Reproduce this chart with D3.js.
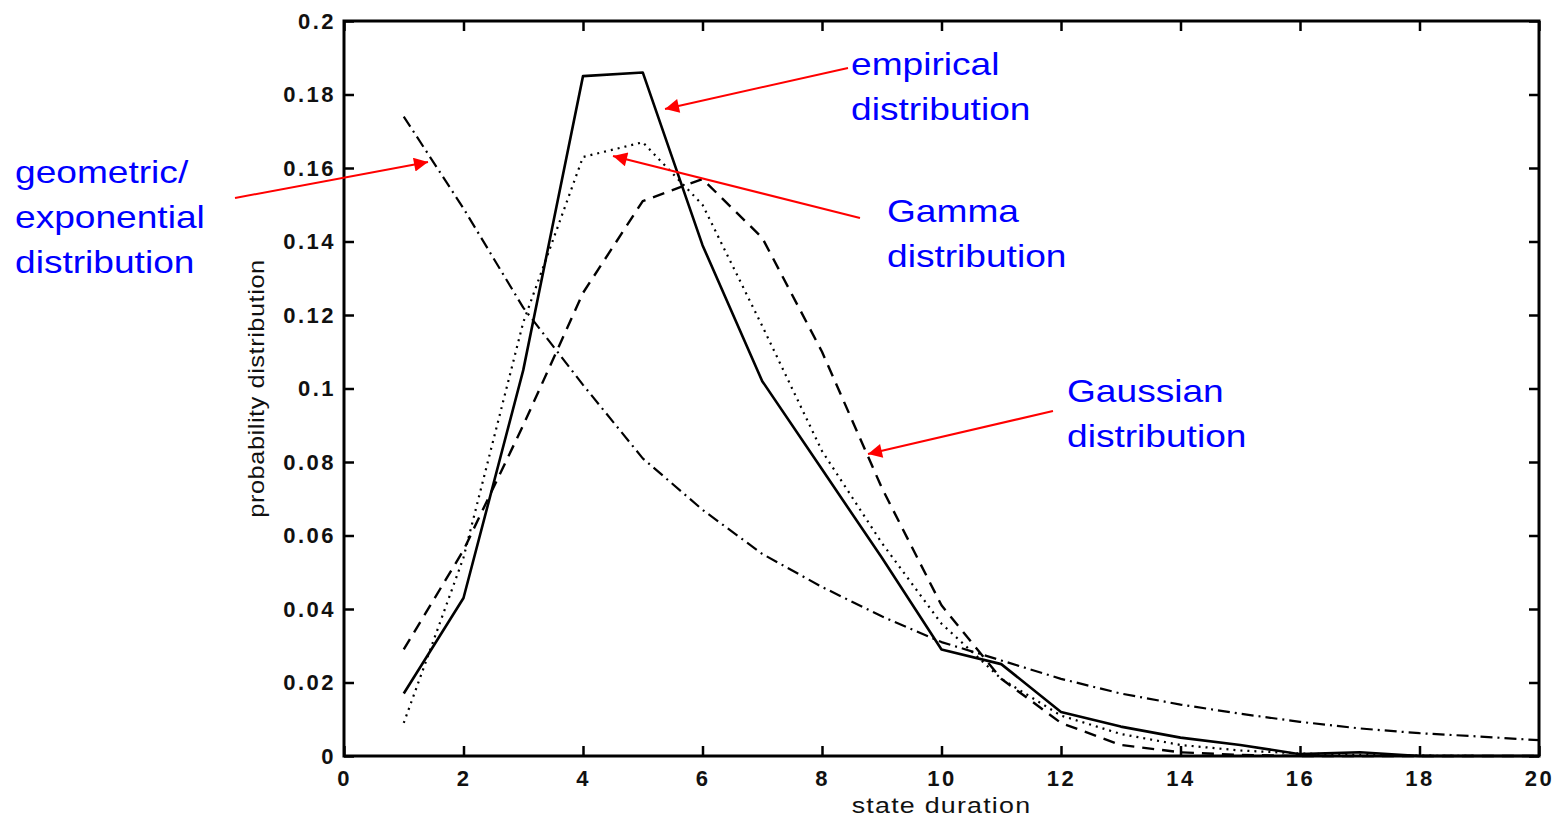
<!DOCTYPE html>
<html>
<head>
<meta charset="utf-8">
<script src="https://cdn.jsdelivr.net/npm/d3@7"></script>
<style>
  html, body { margin: 0; padding: 0; background: #fff; }
  svg { display: block; }
</style>
</head>
<body>
<svg id="chart" width="1557" height="819"></svg>
<script>
// ---------- data ----------
const durations = [1,2,3,4,5,6,7,8,9,10,11,12,13,14,15,16,17,18,19,20];
const empirical = [0.017,0.043,0.105,0.185,0.186,0.139,0.102,0.078,0.054,0.029,0.025,0.012,0.008,0.005,0.003,0.0005,0.001,0,0,0];
const gammaDist = [0.009,0.054,0.118,0.163,0.167,0.150,0.117,0.083,0.058,0.036,0.021,0.011,0.006,0.003,0.0015,0.0007,0.0003,0.0001,0,0];
const gaussian  = [0.029,0.056,0.090,0.126,0.151,0.157,0.141,0.110,0.073,0.041,0.021,0.009,0.003,0.001,0.0003,0,0,0,0,0];
const geometric = [0.174,0.149,0.122,0.101,0.081,0.067,0.055,0.046,0.038,0.031,0.026,0.021,0.017,0.014,0.0115,0.0093,0.0075,0.0062,0.0053,0.0043];
const xTicks = [0,2,4,6,8,10,12,14,16,18,20];
const yTicks = [0,0.02,0.04,0.06,0.08,0.1,0.12,0.14,0.16,0.18,0.2];
const xLabel = "state duration";
const yLabel = "probability distribution";
const annotations = [
  {lines:["empirical","distribution"], x:851, y:75, from:[848,68], to:[665,109]},
  {lines:["Gamma","distribution"], x:887, y:222, from:[860,218], to:[613,156]},
  {lines:["geometric/","exponential","distribution"], x:15, y:183, from:[235,198], to:[428,162]},
  {lines:["Gaussian","distribution"], x:1067, y:402, from:[1053,411], to:[868,454]}
];

// ---------- layout ----------
const svg = d3.select("#chart");
const m = {left:344, right:1539, top:21, bottom:756};
const x = d3.scaleLinear().domain([0,20]).range([m.left, m.right]);
const y = d3.scaleLinear().domain([0,0.2]).range([m.bottom, m.top]);

const tickFont = "'Liberation Sans', Arial, Helvetica, sans-serif";

// axes
const gx = svg.append("g").attr("transform",`translate(0,${m.bottom})`)
  .call(d3.axisBottom(x).tickValues(xTicks).tickSize(-10).tickPadding(14).tickFormat(d3.format("d")));
const gxTop = svg.append("g").attr("transform",`translate(0,${m.top})`)
  .call(d3.axisTop(x).tickValues(xTicks).tickSize(-10).tickFormat(""));
const gy = svg.append("g").attr("transform",`translate(${m.left},0)`)
  .call(d3.axisLeft(y).tickValues(yTicks).tickSize(-10).tickPadding(10)
        .tickFormat(d => d === 0 ? "0" : String(+d.toFixed(2))));
const gyR = svg.append("g").attr("transform",`translate(${m.right},0)`)
  .call(d3.axisRight(y).tickValues(yTicks).tickSize(-10).tickFormat(""));

[gx,gxTop,gy,gyR].forEach(g => {
  g.select(".domain").remove();
  g.selectAll(".tick line").attr("stroke","#000").attr("stroke-width",2.5);
  g.selectAll(".tick text").attr("fill","#111")
    .style("font-family",tickFont).style("font-size","22px").style("font-weight","bold")
    .style("letter-spacing","2.5px");
});
gy.selectAll(".tick text").attr("dx","2px");

// box
svg.append("rect").attr("x",m.left).attr("y",m.top)
  .attr("width",m.right-m.left).attr("height",m.bottom-m.top)
  .attr("fill","none").attr("stroke","#000").attr("stroke-width",3);

// axis labels
svg.append("text").attr("transform",`translate(${(m.left+m.right)/2},813) scale(1.22,1)`)
  .attr("text-anchor","middle").attr("fill","#111")
  .style("font-family",tickFont).style("font-size","22px").style("letter-spacing","1px")
  .text(xLabel);
svg.append("text").attr("transform",`translate(264,${(m.top+m.bottom)/2}) rotate(-90) scale(1.15,1)`)
  .attr("text-anchor","middle").attr("fill","#111")
  .style("font-family",tickFont).style("font-size","22px").style("letter-spacing","0.5px")
  .text(yLabel);

// series
const line = d3.line().x((d,i)=>x(durations[i])).y(d=>y(d));
const series = [
  {data:geometric, dash:"12,5,2,5", w:2.2},
  {data:gaussian,  dash:"12,8", w:2.4},
  {data:gammaDist, dash:"2,5", w:2.2},
  {data:empirical, dash:null, w:2.6}
];
series.forEach(s => {
  svg.append("path").datum(s.data).attr("d",line)
    .attr("fill","none").attr("stroke","#000").attr("stroke-width",s.w)
    .attr("stroke-dasharray",s.dash).attr("stroke-linejoin","round");
});

// annotations
const defs = svg.append("defs");
defs.append("marker").attr("id","arrow").attr("viewBox","0 0 10 10")
  .attr("refX",10).attr("refY",5).attr("markerWidth",20).attr("markerHeight",14)
  .attr("markerUnits","userSpaceOnUse").attr("orient","auto")
  .append("path").attr("d","M0,0 L10,5 L0,10 z").attr("fill","#f00");

annotations.forEach(a => {
  svg.append("line").attr("x1",a.from[0]).attr("y1",a.from[1])
    .attr("x2",a.to[0]).attr("y2",a.to[1])
    .attr("stroke","#f00").attr("stroke-width",2).attr("marker-end","url(#arrow)");
  a.lines.forEach((t,i) => {
    svg.append("text")
      .attr("transform",`translate(${a.x},${a.y + i*45}) scale(1.16,1)`)
      .attr("fill","#0000ff")
      .style("font-family","'Liberation Sans', Arial, sans-serif").style("font-size","32px")
      .text(t);
  });
});
</script>
</body>
</html>
